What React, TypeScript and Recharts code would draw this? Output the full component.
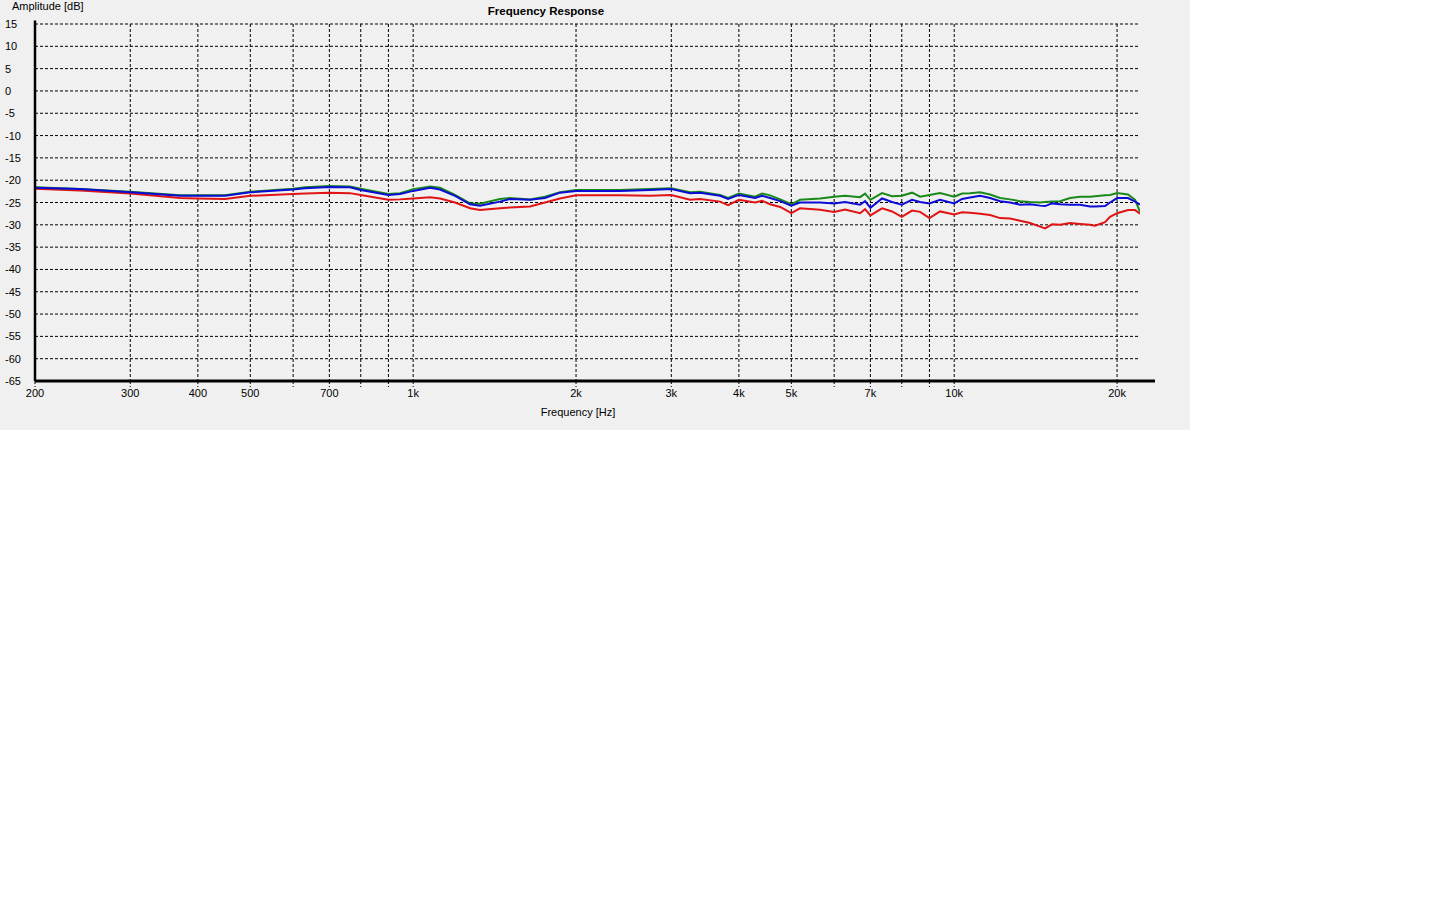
import React from "react";
import {
  LineChart,
  Line,
  XAxis,
  YAxis,
  CartesianGrid,
  ReferenceLine,
} from "recharts";

// frequency points in Hz (log axis)
const freqs = [
  200, 242, 300, 371, 400, 449, 500, 600, 631, 700, 764, 800, 900, 946, 1000,
  1075, 1121, 1195, 1274, 1329, 1447, 1510, 1644, 1752, 1868, 2000, 2412, 2740,
  3000, 3248, 3390, 3692, 3820, 4000, 4284, 4415, 4568, 4769, 5000, 5188, 5650,
  6000, 6284, 6698, 6843, 7000, 7356, 7676, 8000, 8358, 8649, 9000, 9416, 10000,
  10340, 10698, 11166, 11648, 12155, 12684, 13236, 13814, 14412, 14720, 15170,
  15693, 16372, 17087, 17830, 18212, 19000, 19410, 20000, 20950, 21600, 22050,
];

const greenDb = [
  -21.6, -22.0, -22.6, -23.4, -23.4, -23.4, -22.6, -21.9, -21.6, -21.3, -21.4,
  -21.9, -23.1, -22.9, -22.0, -21.4, -21.7, -23.3, -25.2, -25.3, -24.2, -24.0,
  -24.3, -23.7, -22.7, -22.2, -22.2, -22.0, -21.8, -22.7, -22.6, -23.3, -24.0,
  -23.0, -23.7, -23.0, -23.4, -24.3, -25.4, -24.4, -24.1, -23.7, -23.5, -23.8,
  -23.0, -24.4, -22.9, -23.6, -23.5, -22.8, -23.7, -23.3, -22.9, -23.7, -23.0,
  -22.9, -22.7, -23.2, -24.0, -24.3, -24.7, -24.9, -25.0, -24.9, -24.8, -24.7,
  -24.0, -23.7, -23.7, -23.6, -23.4, -23.3, -22.9, -23.2, -24.4, -27.1,
];

const blueDb = [
  -21.7, -22.0, -22.7, -23.5, -23.5, -23.5, -22.7, -22.1, -21.8, -21.5, -21.6,
  -22.2, -23.3, -23.1, -22.4, -21.7, -22.1, -23.5, -25.4, -25.7, -24.8, -24.2,
  -24.4, -24.0, -22.8, -22.4, -22.4, -22.2, -22.0, -22.9, -22.8, -23.5, -24.2,
  -23.3, -24.0, -23.5, -24.0, -24.7, -25.7, -25.0, -25.0, -25.2, -24.9, -25.5,
  -24.7, -26.2, -24.1, -24.9, -25.5, -24.4, -24.9, -25.2, -24.4, -25.2, -24.2,
  -23.9, -23.5, -24.0, -24.7, -25.0, -25.5, -25.4, -25.7, -25.8, -25.2, -25.4,
  -25.5, -25.5, -25.9, -25.9, -25.8, -25.0, -24.0, -24.0, -24.8, -25.5,
];

const redDb = [
  -21.9, -22.3, -23.0, -24.0, -24.1, -24.2, -23.5, -23.1, -23.0, -22.8, -22.9,
  -23.3, -24.4, -24.3, -24.1, -23.8, -24.1, -25.0, -26.3, -26.7, -26.3, -26.1,
  -25.9, -25.0, -24.1, -23.4, -23.4, -23.5, -23.3, -24.4, -24.2, -24.8, -25.6,
  -24.4, -25.0, -24.6, -25.4, -26.0, -27.4, -26.3, -26.6, -27.1, -26.6, -27.4,
  -26.5, -27.9, -26.3, -27.0, -28.2, -26.8, -27.1, -28.5, -27.0, -27.7, -27.2,
  -27.3, -27.5, -27.8, -28.5, -28.6, -29.1, -29.6, -30.4, -30.8, -29.9, -30.0,
  -29.6, -29.8, -30.0, -30.2, -29.4, -28.2, -27.4, -26.7, -26.7, -27.5,
];

const xTicks = [
  200, 300, 400, 500, 600, 700, 800, 900, 1000, 2000, 3000, 4000, 5000, 6000,
  7000, 8000, 9000, 10000, 20000,
];
const xTickLabels = [
  "200", "300", "400", "500", "", "700", "", "", "1k", "2k", "3k", "4k", "5k",
  "", "7k", "", "", "10k", "20k",
];
const yTicks = [15, 10, 5, 0, -5, -10, -15, -20, -25, -30, -35, -40, -45, -50, -55, -60, -65];

const data = freqs.map((f, i) => ({
  f,
  green: greenDb[i],
  blue: blueDb[i],
  red: redDb[i],
}));

const font = "'Liberation Sans', Arial, sans-serif";

const YTick = (props: any) => {
  const { y, payload } = props;
  return (
    <text x={5} y={y} textAnchor="start" dominantBaseline="central" fontSize={11} fontFamily={font} fill="#000">
      {payload.value}
    </text>
  );
};

// tick mark continues the dashed grid line below the axis, then the label
const XTick = (props: any) => {
  const { x, y, payload } = props;
  const idx = xTicks.indexOf(payload.value);
  if (idx < 0) return <g />;
  return (
    <g>
      <line x1={x} x2={x} y1={y - 8} y2={y - 2} stroke="#000" strokeDasharray="3 2" />
      <text x={x} y={y} dy="0.71em" textAnchor="middle" fontSize={11} fontFamily={font} fill="#000">
        {xTickLabels[idx]}
      </text>
    </g>
  );
};

const App: React.FC = () => {
  return (
    <div
      style={{
        position: "absolute",
        left: 0,
        top: 0,
        width: 1190,
        height: 430,
        background: "#f0f0f0",
        fontFamily: font,
      }}
    >
      <div style={{ position: "absolute", left: 12, top: 0, fontSize: 11, color: "#000" }}>
        Amplitude [dB]
      </div>
      <div
        style={{
          position: "absolute",
          left: 446,
          width: 200,
          top: 5,
          textAlign: "center",
          fontSize: 11.5,
          fontWeight: "bold",
          color: "#000",
        }}
      >
        Frequency Response
      </div>
      <div
        style={{
          position: "absolute",
          left: 478,
          width: 200,
          top: 406,
          textAlign: "center",
          fontSize: 11,
          color: "#000",
        }}
      >
        Frequency [Hz]
      </div>
      <LineChart
        width={1190}
        height={430}
        data={data}
        margin={{ top: 24, right: 50, left: 0, bottom: 0 }}
        style={{ position: "absolute", left: 0, top: 0 }}
      >
        <CartesianGrid
          stroke="#000"
          strokeDasharray="3 2"
          strokeWidth={1}
          verticalValues={xTicks}
          horizontalValues={yTicks}
        />
        <XAxis
          dataKey="f"
          type="number"
          scale="log"
          domain={[200, 22050]}
          ticks={xTicks}
          allowDataOverflow
          axisLine={false}
          tickLine={false}
          tickSize={6}
          tickMargin={2}
          height={49}
          interval={0}
          tick={<XTick />}
        />
        <YAxis
          type="number"
          domain={[-65, 15]}
          ticks={yTicks}
          interval={0}
          width={35}
          axisLine={false}
          tickLine={false}
          tick={<YTick />}
        />
        <Line dataKey="red" type="linear" stroke="#e01414" strokeWidth={2} dot={false} isAnimationActive={false} />
        <Line dataKey="green" type="linear" stroke="#198a19" strokeWidth={2} dot={false} isAnimationActive={false} />
        <Line dataKey="blue" type="linear" stroke="#0c0cd6" strokeWidth={2} dot={false} isAnimationActive={false} />
        <ReferenceLine
          segment={[{ x: 200, y: -65 }, { x: 23500, y: -65 }]}
          stroke="#000"
          strokeWidth={3}
          ifOverflow="visible"
        />
        <ReferenceLine
          segment={[{ x: 200, y: 15.8 }, { x: 200, y: -65 }]}
          stroke="#000"
          strokeWidth={2.5}
          ifOverflow="visible"
        />
      </LineChart>
    </div>
  );
};

export default App;
